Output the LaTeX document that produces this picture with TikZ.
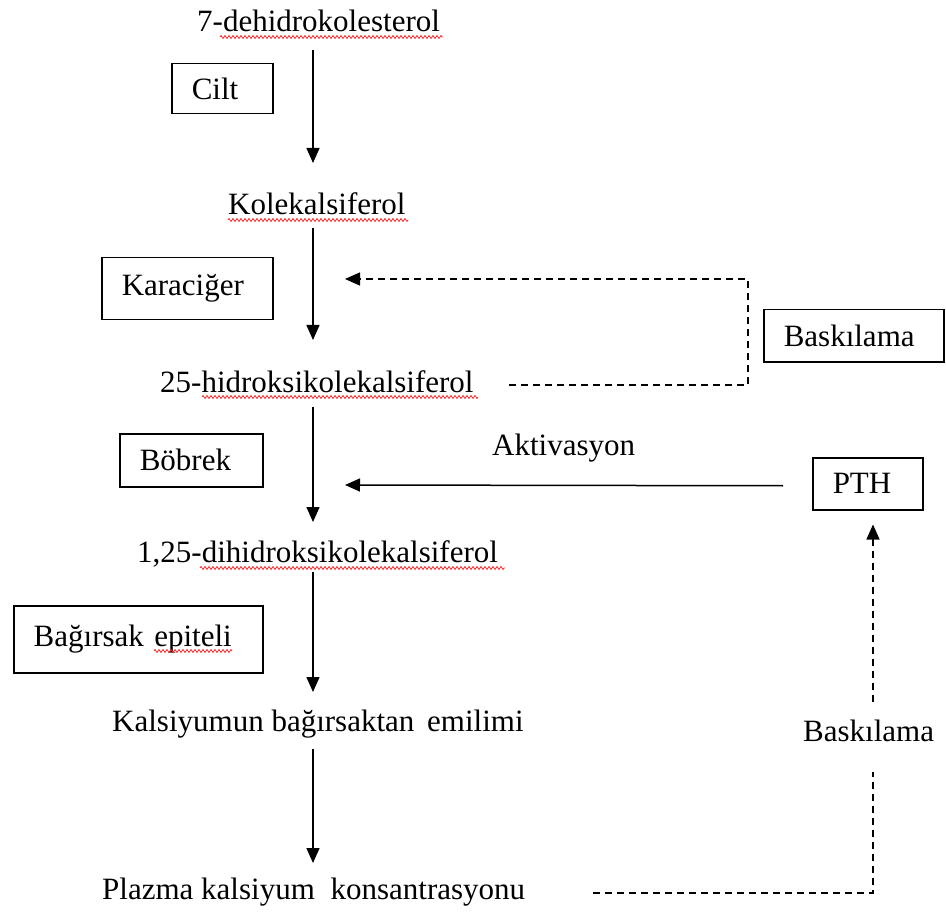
\documentclass[tikz,border=0pt]{standalone}
\usepackage{fontspec}
\setmainfont{Liberation Serif}
\usetikzlibrary{arrows.meta,calc,decorations.pathmorphing}
\newcommand\fs{\fontsize{31}{36}\selectfont}
\begin{document}
\begin{tikzpicture}[x=1pt,y=-1pt,
 txt/.style={inner sep=0pt, anchor=base west, font=\fs},
 lbl/.style={draw, line width=1.5pt, anchor=north west, inner xsep=20pt, inner ysep=0pt, align=left, font=\fs},
 arr/.style={line width=1.5pt, -{Triangle[length=15pt,width=13pt]}},
 dsh/.style={line width=1.4pt, dash pattern=on 7pt off 5pt},
 darr/.style={dsh, -{Triangle[length=15pt,width=13pt]}},
 squig/.style={red!85, line width=0.8pt, decorate, decoration={zigzag, amplitude=1.5pt, segment length=4pt}}]
\path[use as bounding box] (0,0) rectangle (946,912);

% texts
\node[txt] (t1) at (197,32) {7-dehidrokolesterol};
\node[txt] (t2) at (228,215) {Kolekalsiferol};
\node[txt] (t3) at (160,392) {25-hidroksikolekalsiferol};
\node[txt] (t4) at (137,562) {1,25-dihidroksikolekalsiferol};
\node[txt] (t5) at (112,731) {Kalsiyumun bağırsaktan\hspace{5pt} emilimi};
\node[txt] (t6) at (102,899) {Plazma kalsiyum\hspace{8pt} konsantrasyonu};
\node[txt] (akt) at (492,455) {Aktivasyon};
\node[txt] (bsk2) at (803,741) {Baskılama};

% boxes
\node[lbl, text width=61pt, minimum height=50pt] (cilt) at (171,63) {Cilt};
\node[lbl, text width=131pt, minimum height=62pt] (kara) at (101,257) {Karaciğer};
\node[lbl, text width=140pt, minimum height=52pt] (bsk1) at (763,309) {Baskılama};
\node[lbl, text width=103pt, minimum height=53pt] (bob) at (119,433) {Böbrek};
\node[lbl, text width=70pt, minimum height=52pt] (pth) at (812,457) {PTH};
\node[lbl, text width=209pt, minimum height=67pt] (bag) at (13,605) {Bağırsak epiteli};

% main chain
\coordinate (ax) at (313,0);
\draw[arr] ($(t1.base -| ax)+(0,18)$) -- ($(t2.base -| ax)+(0,-52)$);
\draw[arr] ($(t2.base -| ax)+(0,13)$) -- ($(t3.base -| ax)+(0,-52)$);
\draw[arr] ($(t3.base -| ax)+(0,15)$) -- ($(t4.base -| ax)+(0,-40)$);
\draw[arr] ($(t4.base -| ax)+(0,10)$) -- ($(t5.base -| ax)+(0,-39)$);
\draw[arr] ($(t5.base -| ax)+(0,18)$) -- ($(t6.base -| ax)+(0,-36)$);

% feedback loop top
\coordinate (c1) at (748,279);
\coordinate (tip1) at (345,279);
\draw[darr] ($(t3.base east)+(35,-7)$) -| (c1) -- (tip1);

% activation
\coordinate (tip2) at (345,485);
\draw[arr] ($(pth.west)+(-29,2)$) -- (tip2);

% feedback loop bottom
\coordinate (c2) at (873,772);
\coordinate (c3) at (873,702);
\draw[dsh] ($(t6.base east)+(68,-6)$) -| (c2);
\draw[darr] (c3) -- ($(pth.south -| c3)+(0,14)$);

% spell-check underlines
\draw[squig] (220,37) -- (443,37);
\draw[squig] (228,220) -- (408,220);
\draw[squig] (202,397) -- (478,397);
\draw[squig] (200,568) -- (505,568);
\draw[squig] (154,651) -- (232,651);
\end{tikzpicture}
\end{document}
